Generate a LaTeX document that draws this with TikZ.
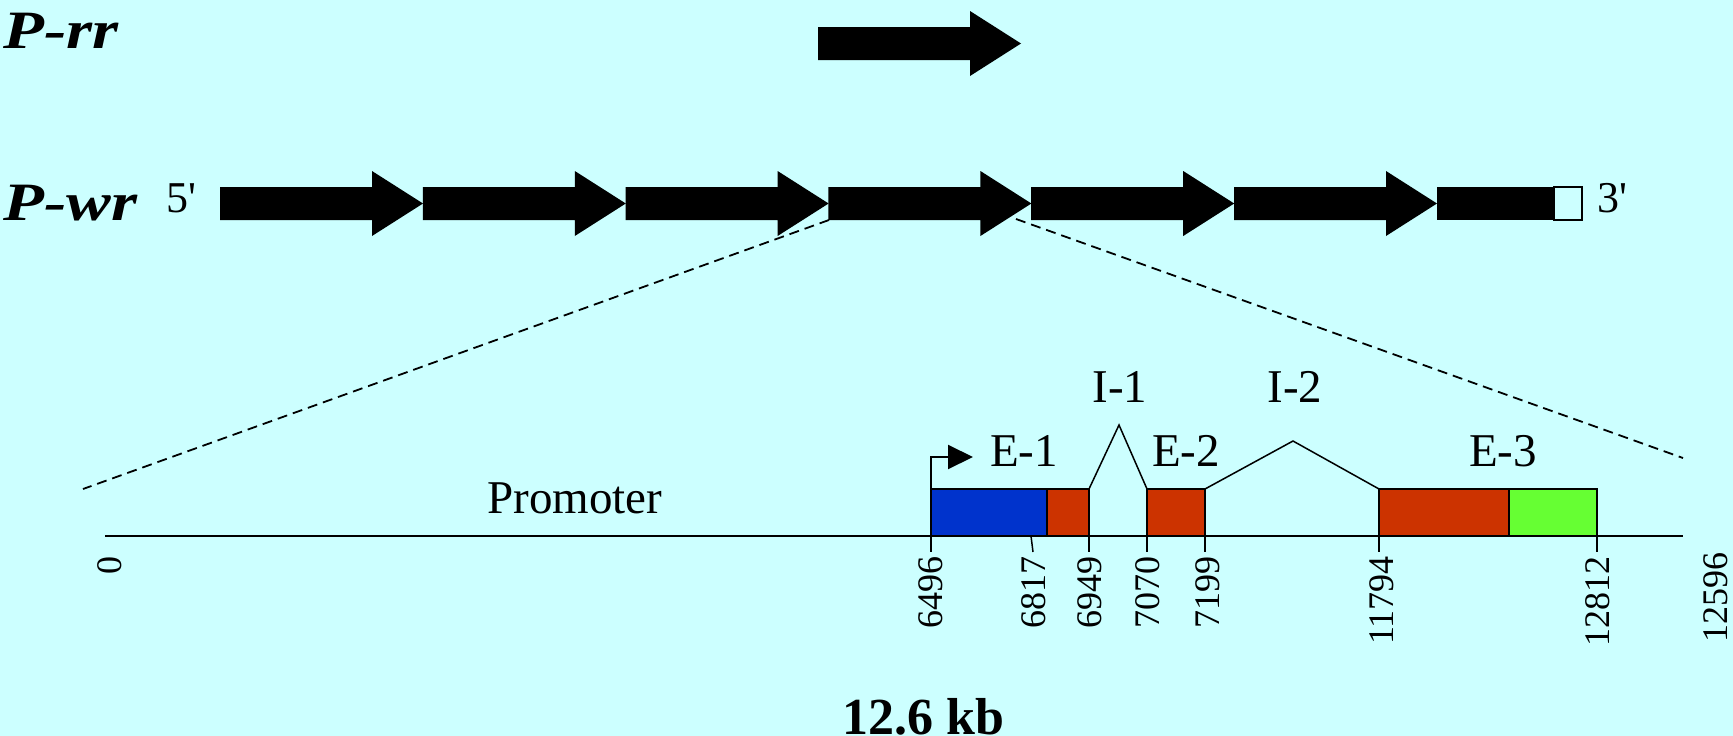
\documentclass[tikz,border=0pt]{standalone}
\usepackage{fontspec}
\setmainfont{Liberation Serif}
\usetikzlibrary{arrows.meta}
\definecolor{bgcyan}{HTML}{CCFFFF}
\definecolor{exblue}{HTML}{0033CC}
\definecolor{exred}{HTML}{CC3300}
\definecolor{exgreen}{HTML}{66FF33}
\tikzset{
  genearrow/.pic={\fill[black] (0,-16.5) -- (152,-16.5) -- (152,-32.5) -- (203,0) -- (152,32.5) -- (152,16.5) -- (0,16.5) -- cycle;},
  exonbox/.style={draw=black, line width=1.5pt},
  axisline/.style={line width=2pt},
  tickline/.style={line width=1.5pt},
  intronline/.style={line width=1.5pt},
  zoomline/.style={line width=1.8pt, dash pattern=on 10pt off 6pt},
  poslabel/.style={rotate=90, anchor=east, inner sep=0pt, font=\fontsize{36}{36}\selectfont},
  featlabel/.style={anchor=base, inner sep=0pt, font=\fontsize{47}{47}\selectfont},
  endlabel/.style={anchor=base, inner sep=0pt, font=\fontsize{44}{44}\selectfont},
  rowlabel/.style={anchor=base west, inner sep=0pt, xscale=1.24, font=\fontsize{54}{54}\selectfont\bfseries\itshape},
}
\begin{document}
\begin{tikzpicture}[x=1pt,y=-1pt]
\fill[bgcyan] (0,0) rectangle (1733,736);
\useasboundingbox (0,0) rectangle (1733,736);

% row labels
\node[rowlabel] (prr) at (3,48) {P-rr};
\node[rowlabel] (pwr) at (3,220) {P-wr};
\node[endlabel] (five) at (181,212) {5\textquotesingle};
\node[endlabel] (three) at (1612,212) {3\textquotesingle};

% zoom lines
\coordinate (zl1) at (829,220);
\coordinate (zl2) at (83,489);
\coordinate (zr1) at (1016,219);
\coordinate (zr2) at (1683,458);
\draw[zoomline] (zl1) -- (zl2);
\draw[zoomline] (zr1) -- (zr2);

% P-rr arrow
\pic at (818,43.5) {genearrow};

% P-wr arrows
\foreach \i in {0,...,5} {
  \pic at ({220+202.8*\i},203.5) {genearrow};
}
\fill[black] (1436.8,187) rectangle (1554,220);
\draw[line width=1.2pt, fill=bgcyan] (1554,187) rectangle (1582,220);

% gene model axis
\coordinate (axL) at (105,536);
\coordinate (axR) at (1683,536);
\draw[axisline] (axL) -- (axR);

% exons
\filldraw[exonbox, fill=exblue] (931,489) rectangle (1047,536);
\filldraw[exonbox, fill=exred] (1047,489) rectangle (1089,536);
\filldraw[exonbox, fill=exred] (1147,489) rectangle (1205,536);
\filldraw[exonbox, fill=exred] (1379,489) rectangle (1509,536);
\filldraw[exonbox, fill=exgreen] (1509,489) rectangle (1597,536);

% introns
\draw[intronline] (1089,489) -- (1119,425) -- (1147,489);
\draw[intronline] (1205,489) -- (1293,441) -- (1379,489);

% transcription start arrow
\draw[line width=2pt, -{Triangle[length=25pt,width=24pt]}] (931,489) -- (931,457) -- (973,457);

% ticks
\foreach \x in {931,1089,1147,1205,1379,1597} {
  \draw[tickline] (\x,536) -- (\x,552);
}
\draw[tickline] (1031,536) -- (1033,552);

% position labels
\node[poslabel] (p0) at (110,556) {0};
\node[poslabel] (p6496) at (931,556) {6496};
\node[poslabel] (p6817) at (1034,556) {6817};
\node[poslabel] (p6949) at (1090,556) {6949};
\node[poslabel] (p7070) at (1148,556) {7070};
\node[poslabel] (p7199) at (1208,556) {7199};
\node[poslabel] (p11794) at (1382,556) {11794};
\node[poslabel] (p12812) at (1598,556) {12812};
\node[poslabel] (p12596) at (1716,552) {12596};

% feature labels
\node[featlabel] (prom) at (575,513) {Promoter};
\node[featlabel] (e1) at (1024,466) {E-1};
\node[featlabel] (e2) at (1186,466) {E-2};
\node[featlabel] (e3) at (1503,466) {E-3};
\node[featlabel] (i1) at (1120,402) {I-1};
\node[featlabel] (i2) at (1295,402) {I-2};

% scale label
\node[anchor=base, inner sep=0pt, font=\fontsize{52}{52}\selectfont\bfseries] (kb) at (923,734) {12.6 kb};
\end{tikzpicture}
\end{document}
